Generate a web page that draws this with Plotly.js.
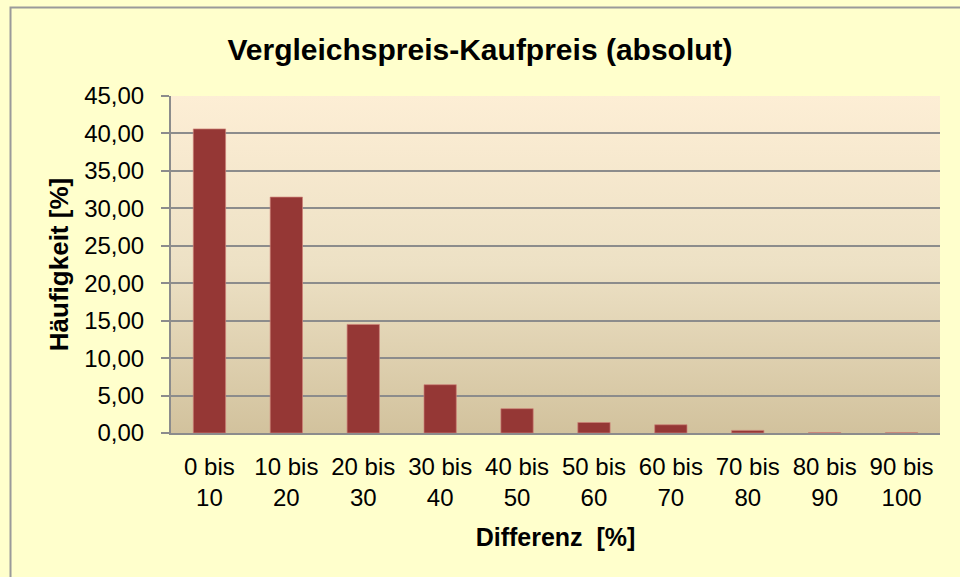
<!DOCTYPE html>
<html>
<head>
<meta charset="utf-8">
<script src="https://cdn.plot.ly/plotly-3.0.1.min.js"></script>
<style>html,body{margin:0;padding:0;background:#FFFFCC;}#chart{width:960px;height:577px;}</style>
</head>
<body>
<div id="chart"></div>
<script>
const categories = ["0 bis<br>10","10 bis<br>20","20 bis<br>30","30 bis<br>40","40 bis<br>50","50 bis<br>60","60 bis<br>70","70 bis<br>80","80 bis<br>90","90 bis<br>100"];
const haeufigkeit = [40.6, 31.5, 14.5, 6.45, 3.25, 1.4, 1.1, 0.35, 0.05, 0.03];
const yTicks = [0,5,10,15,20,25,30,35,40,45];

const FONT = "Liberation Sans, Arial, sans-serif";
const gradSvg = '<svg xmlns="http://www.w3.org/2000/svg" width="10" height="100" preserveAspectRatio="none"><defs><linearGradient id="g" x1="0" y1="0" x2="0" y2="1"><stop offset="0" stop-color="#FDEED5"/><stop offset="0.5" stop-color="#EDE1C5"/><stop offset="1" stop-color="#D2C29D"/></linearGradient></defs><rect width="10" height="100" fill="url(#g)"/></svg>';
const gradUri = 'data:image/svg+xml;base64,' + btoa(gradSvg);

const trace = {
  type: 'bar',
  x: categories,
  y: haeufigkeit,
  marker: {color: '#953735', line: {color: 'rgba(205,130,120,0.7)', width: 1}},
  hoverinfo: 'x+y'
};

const layout = {
  width: 960, height: 577,
  margin: {l: 171, r: 20, t: 96, b: 144, pad: 0},
  paper_bgcolor: '#FFFFCC',
  plot_bgcolor: 'rgba(0,0,0,0)',
  separators: ',.',
  bargap: 0.58,
  showlegend: false,
  font: {family: FONT, color: '#000', size: 24},
  title: {text: '<b>Vergleichspreis-Kaufpreis (absolut)</b>', font: {family: FONT, size: 30, color: '#000'}, x: 0.5, xanchor: 'center', y: 0.915, yanchor: 'middle'},
  xaxis: {
    type: 'category',
    showgrid: false,
    showline: true, linecolor: '#8C8C8C', linewidth: 2,
    ticks: '', tickfont: {family: FONT, size: 24, color: '#000'},
    ticklabelstandoff: 11,
    title: {text: '<b>Differenz  [%]</b>', font: {family: FONT, size: 25, color: '#000'}, standoff: 18},
    automargin: false
  },
  yaxis: {
    range: [0, 45],
    tickvals: yTicks,
    tickformat: '.2f',
    showgrid: true, gridcolor: '#8C8C8C', gridwidth: 2,
    showline: true, linecolor: '#8C8C8C', linewidth: 2,
    ticks: 'outside', ticklen: 8, tickwidth: 2, tickcolor: '#8C8C8C',
    tickfont: {family: FONT, size: 24, color: '#000'},
    ticklabelstandoff: 12,
    zeroline: false,
    title: {text: '<b>Häufigkeit [%]</b>', font: {family: FONT, size: 26, color: '#000'}, standoff: 8},
    automargin: false
  },
  images: [{source: gradUri, xref: 'paper', yref: 'paper', x: 0, y: 1, sizex: 1, sizey: 1, xanchor: 'left', yanchor: 'top', sizing: 'stretch', layer: 'below'}],
  shapes: [{type: 'rect', xref: 'paper', yref: 'paper', x0: -0.2087, x1: 2, y0: -1, y1: 1.2626, line: {color: '#9A9A9A', width: 2}, fillcolor: 'rgba(0,0,0,0)', layer: 'below'}]
};

Plotly.newPlot('chart', [trace], layout, {displayModeBar: false, staticPlot: true});
</script>
</body>
</html>
